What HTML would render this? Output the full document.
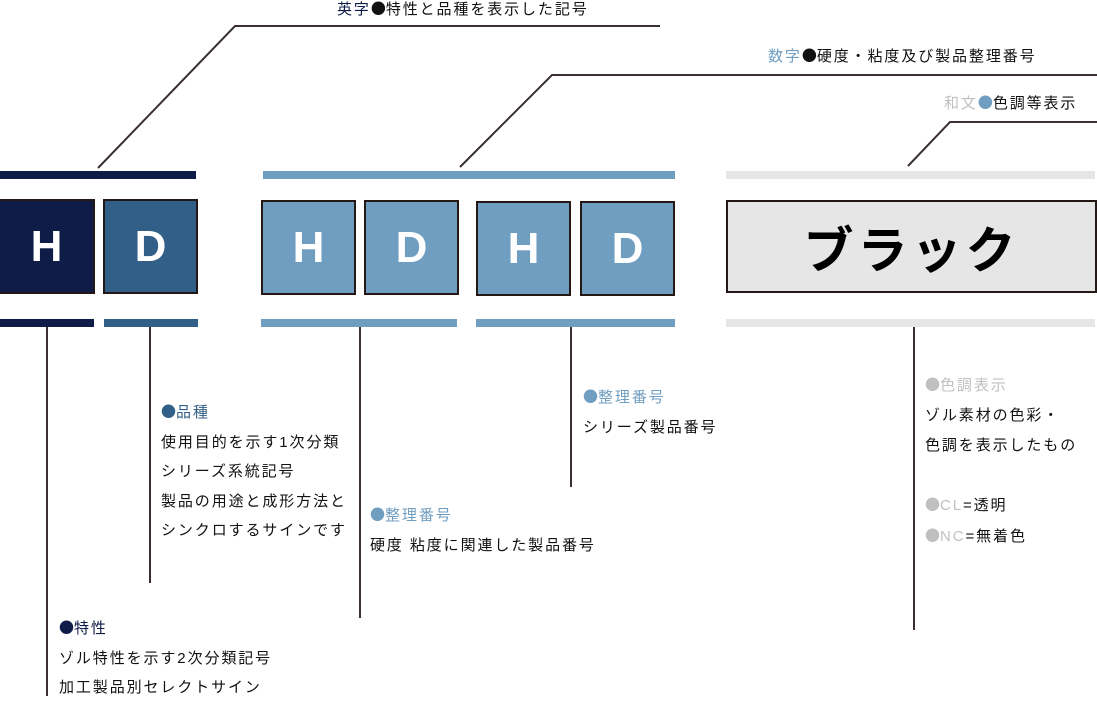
<!DOCTYPE html>
<html><head><meta charset="utf-8"><style>
body{margin:0;width:1097px;height:696px;position:relative;background:#fff;overflow:hidden;font-family:"Liberation Sans","Noto Sans CJK JP",sans-serif;color:#111}
.t{position:absolute;font-size:15px;line-height:20px;white-space:nowrap;letter-spacing:1.9px}
.d{font-family:"Noto Sans CJK JP",sans-serif;letter-spacing:0}
.b{position:absolute;box-sizing:border-box;border:2px solid #231815;color:#fff;font-weight:bold;font-size:44px;display:flex;align-items:center;justify-content:center;font-family:"Liberation Sans","Noto Sans CJK JP",sans-serif}
</style></head><body>
<svg width="1097" height="696" style="position:absolute;left:0;top:0">
<g stroke="#3a3030" stroke-width="2" fill="none">
<polyline points="98,168 235,26 660,26"/>
<polyline points="460,167 552,75 1097,75"/>
<polyline points="908,166 950,122 1097,122"/>
<line x1="47" y1="327" x2="47" y2="696"/>
<line x1="150" y1="327" x2="150" y2="583"/>
<line x1="360" y1="327" x2="360" y2="618"/>
<line x1="571" y1="327" x2="571" y2="487"/>
<line x1="914" y1="327" x2="914" y2="630"/>
</g>
<rect x="0" y="171" width="196" height="8" fill="#0e1c47"/>
<rect x="263" y="171" width="412" height="8" fill="#709ec0"/>
<rect x="726" y="171" width="369" height="8" fill="#e6e6e6"/>
<rect x="0" y="319" width="94" height="8" fill="#0e1c47"/>
<rect x="104" y="319" width="94" height="8" fill="#325f87"/>
<rect x="261" y="319" width="196" height="8" fill="#709ec0"/>
<rect x="476" y="319" width="199" height="8" fill="#709ec0"/>
<rect x="726" y="319" width="369" height="8" fill="#e6e6e6"/>
</svg>
<div class="b" style="left:-2px;top:199px;width:97px;height:95px;background:#0e1c47">H</div>
<div class="b" style="left:103px;top:199px;width:95px;height:95px;background:#325f87">D</div>
<div class="b" style="left:261px;top:200px;width:95px;height:95px;background:#709ec0">H</div>
<div class="b" style="left:364px;top:200px;width:95px;height:95px;background:#709ec0">D</div>
<div class="b" style="left:476px;top:201px;width:95px;height:95px;background:#709ec0">H</div>
<div class="b" style="left:580px;top:201px;width:95px;height:95px;background:#709ec0">D</div>
<div class="b" style="left:726px;top:200px;width:371px;height:93px;background:#e6e6e6;color:#000;font-size:50px;letter-spacing:4px">ブラック</div>

<div class="t" style="left:337px;top:-1px"><span style="color:#0e1c47">英字</span><span class="d">●</span>特性と品種を表示した記号</div>
<div class="t" style="left:768px;top:46px"><span style="color:#709ec0">数字</span><span class="d">●</span>硬度・粘度及び製品整理番号</div>
<div class="t" style="left:944px;top:93px"><span style="color:#c0c0c0">和文</span><span class="d" style="color:#709ec0">●</span>色調等表示</div>

<div class="t" style="left:161px;top:397px;line-height:29.5px"><span style="color:#325f87"><span class="d">●</span>品種</span><br>使用目的を示す1次分類<br>シリーズ系統記号<br>製品の用途と成形方法と<br>シンクロするサインです</div>
<div class="t" style="left:59px;top:613px;line-height:29.5px"><span style="color:#0e1c47"><span class="d">●</span>特性</span><br>ゾル特性を示す2次分類記号<br>加工製品別セレクトサイン</div>
<div class="t" style="left:370px;top:500px;line-height:30px"><span style="color:#709ec0"><span class="d">●</span>整理番号</span><br>硬度 粘度に関連した製品番号</div>
<div class="t" style="left:583px;top:382px;line-height:29.5px"><span style="color:#709ec0"><span class="d">●</span>整理番号</span><br>シリーズ製品番号</div>
<div class="t" style="left:925px;top:370px;line-height:29.8px"><span style="color:#c0c0c0"><span class="d">●</span>色調表示</span><br>ゾル素材の色彩・<br>色調を表示したもの<br><br><span style="color:#c0c0c0"><span class="d">●</span>CL</span>=透明<br><span style="color:#c0c0c0"><span class="d">●</span>NC</span>=無着色</div>
</body></html>
